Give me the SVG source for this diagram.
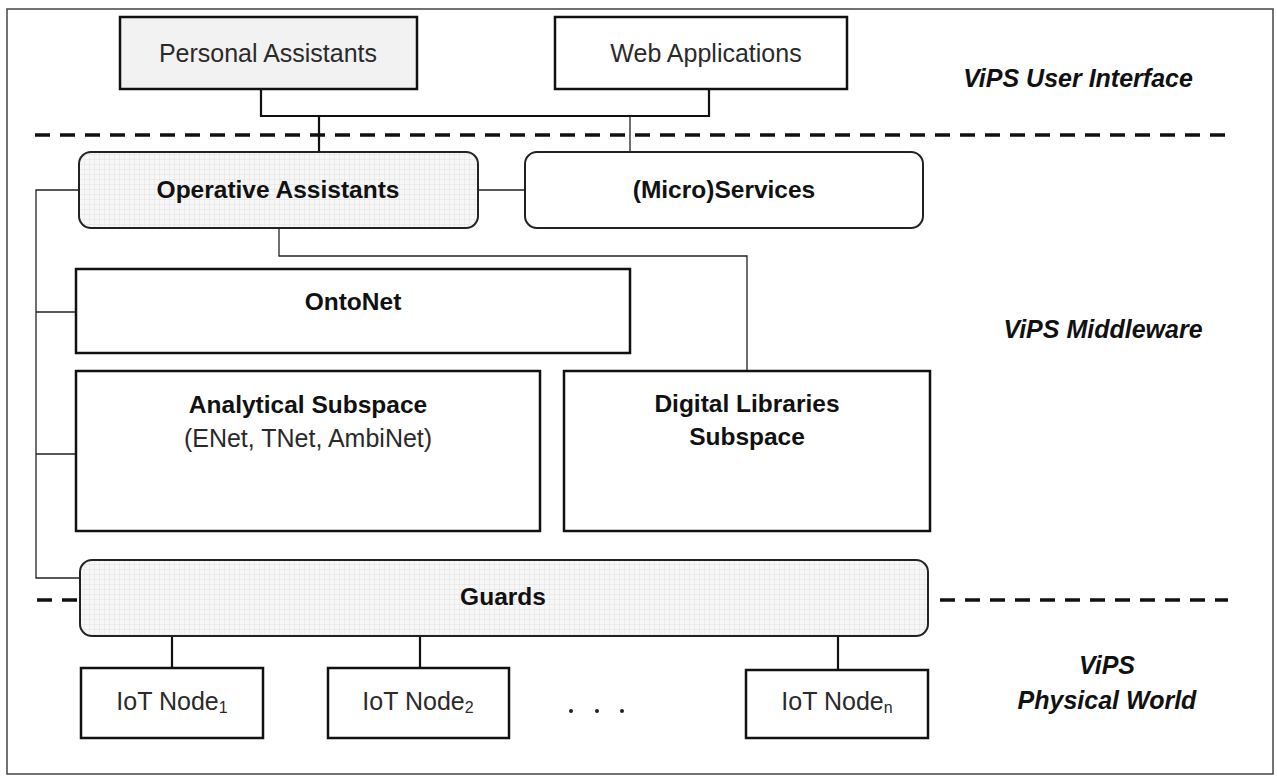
<svg xmlns="http://www.w3.org/2000/svg" width="1277" height="776" viewBox="0 0 1277 776">
  <defs>
    <!-- fine grid fill used by the shaded rounded blocks -->
    <pattern id="grid" width="5" height="5" patternUnits="userSpaceOnUse">
      <rect width="5" height="5" fill="#f7f7f7"/>
      <path d="M5 0 V5 M0 5 H5" fill="none" stroke="#dcdcdc" stroke-width="0.8"/>
    </pattern>
    <style>
      .box { fill: #ffffff; stroke: #111111; stroke-width: 2.5; }
      .shaded { fill: url(#grid); stroke: #222222; stroke-width: 2; }
      .plain { fill: #ffffff; stroke: #222222; stroke-width: 2; }
      .thick { fill: none; stroke: #111111; stroke-width: 2.2; }
      .thin { fill: none; stroke: #222222; stroke-width: 1.3; }
      .dash { fill: none; stroke: #111111; stroke-width: 3.5; stroke-dasharray: 15 10; }
      .lbl { font-family: "Liberation Sans", Arial, sans-serif; font-size: 25px; fill: #2a2a2a; text-anchor: middle; }
      .b { font-size: 24.5px; font-weight: bold; fill: #111111; }
      .layer { font-family: "Liberation Sans", Arial, sans-serif; font-size: 25px; font-weight: bold; font-style: italic; fill: #111111; text-anchor: middle; }
    </style>
  </defs>

  <rect width="1277" height="776" fill="#ffffff"/>
  <!-- outer frame -->
  <rect x="7" y="9" width="1266" height="765" fill="none" stroke="#444444" stroke-width="1.5"/>

  <!-- layer separators -->
  <g id="separators">
    <path class="dash" d="M35 135 H1228"/>
    <path class="dash" d="M37 600 H78"/>
    <path class="dash" d="M940 600 H1228"/>
  </g>

  <!-- connectors -->
  <g id="connectors">
    <path class="thick" d="M261 89 V116 H709 V89"/>
    <path class="thick" d="M319 116 V152"/>
    <path class="thin" d="M630 116 V152"/>
    <path class="thin" d="M478 190 H525"/>
    <path class="thin" d="M79 190 H36 V578 H80"/>
    <path class="thin" d="M36 312 H76"/>
    <path class="thin" d="M36 454 H76"/>
    <path class="thin" d="M279 228 V256 H747 V371"/>
    <path class="thick" d="M172 636 V668"/>
    <path class="thick" d="M420 636 V668"/>
    <path class="thick" d="M838 636 V670"/>
  </g>

  <g id="personal-assistants">
    <rect class="box" x="120" y="17" width="297" height="72" style="fill:#f2f2f2"/>
    <text class="lbl" x="268" y="62">Personal Assistants</text>
  </g>

  <g id="web-applications">
    <rect class="box" x="555" y="17" width="292" height="72"/>
    <text class="lbl" x="706" y="62">Web Applications</text>
  </g>

  <g id="operative-assistants">
    <rect class="shaded" x="79" y="152" width="399" height="76" rx="12"/>
    <text class="lbl b" x="278" y="198">Operative Assistants</text>
  </g>

  <g id="micro-services">
    <rect class="plain" x="525" y="152" width="398" height="76" rx="12"/>
    <text class="lbl b" x="724" y="198">(Micro)Services</text>
  </g>

  <g id="ontonet">
    <rect class="box" x="76" y="269" width="554" height="84"/>
    <text class="lbl b" x="353" y="310">OntoNet</text>
  </g>

  <g id="analytical-subspace">
    <rect class="box" x="76" y="371" width="464" height="160"/>
    <text class="lbl b" x="308" y="413">Analytical Subspace</text>
    <text class="lbl" x="308" y="447">(ENet, TNet, AmbiNet)</text>
  </g>

  <g id="digital-libraries">
    <rect class="box" x="564" y="371" width="366" height="160"/>
    <text class="lbl b" x="747" y="412">Digital Libraries</text>
    <text class="lbl b" x="747" y="445">Subspace</text>
  </g>

  <g id="guards">
    <rect class="shaded" x="80" y="560" width="848" height="76" rx="12"/>
    <text class="lbl b" x="503" y="605">Guards</text>
  </g>

  <g id="iot-node-1">
    <rect class="box" x="81" y="668" width="182" height="70"/>
    <text class="lbl" x="172" y="710">IoT Node<tspan font-size="16" dy="3">1</tspan></text>
  </g>

  <g id="iot-node-2">
    <rect class="box" x="328" y="668" width="181" height="70"/>
    <text class="lbl" x="418" y="710">IoT Node<tspan font-size="16" dy="3">2</tspan></text>
  </g>

  <g id="ellipsis">
    <circle cx="571" cy="711" r="2" fill="#222222"/>
    <circle cx="597" cy="711" r="2" fill="#222222"/>
    <circle cx="622" cy="711" r="2" fill="#222222"/>
  </g>

  <g id="iot-node-n">
    <rect class="box" x="746" y="670" width="182" height="68"/>
    <text class="lbl" x="837" y="710">IoT Node<tspan font-size="16" dy="3">n</tspan></text>
  </g>

  <!-- layer captions -->
  <g id="layer-labels">
    <text class="layer" x="1078" y="87">ViPS User Interface</text>
    <text class="layer" x="1103" y="338">ViPS Middleware</text>
    <text class="layer" x="1107" y="674">ViPS</text>
    <text class="layer" x="1107" y="709">Physical World</text>
  </g>
</svg>
